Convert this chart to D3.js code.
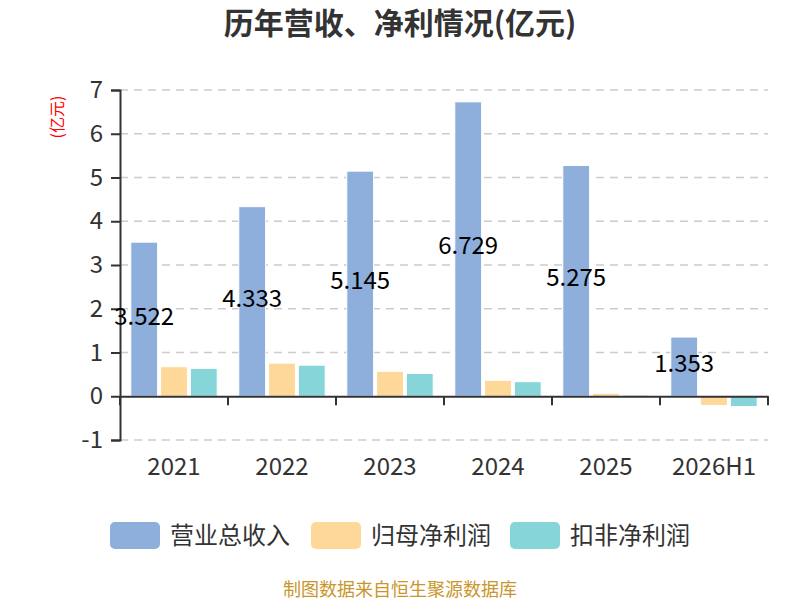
<!DOCTYPE html>
<html>
<head>
<meta charset="utf-8">
<script src="https://cdn.jsdelivr.net/npm/d3@7/dist/d3.min.js"></script>
<style>
  body { margin: 0; background: #fff; }
  text { font-family: "Noto Sans CJK SC", "Noto Sans", sans-serif; }
</style>
</head>
<body>
<div id="chart-area"></div>
<script>
var categories = ["2021", "2022", "2023", "2024", "2025", "2026H1"];
var seriesNames = ["营业总收入", "归母净利润", "扣非净利润"];
var revenue = [3.522, 4.333, 5.145, 6.729, 5.275, 1.353];
var netProfit = [0.675, 0.757, 0.57, 0.364, 0.068, -0.21];
var deductedProfit = [0.636, 0.71, 0.52, 0.333, 0.03, -0.235];
var yTicks = [-1, 0, 1, 2, 3, 4, 5, 6, 7];
var colors = ["#8eaedb", "#fed899", "#86d5d9"];

var seriesValues = [revenue, netProfit, deductedProfit];

var width = 800, height = 600;
var plotLeft = 120, plotRight = 768, plotTop = 90, plotBottom = 440;

var svg = d3.select("#chart-area")
  .append("svg")
    .attr("width", width)
    .attr("height", height);

var x = d3.scaleBand()
  .domain(categories)
  .range([plotLeft, plotRight]);

var inner = d3.scaleBand()
  .domain(d3.range(seriesNames.length))
  .range([x.bandwidth() * 0.1, x.bandwidth() * 0.9])
  .paddingInner(0.1);

var y = d3.scaleLinear()
  .domain([-1, 7])
  .range([plotBottom, plotTop]);

// title
svg.append("text")
  .attr("x", width / 2)
  .attr("y", 34)
  .attr("text-anchor", "middle")
  .attr("font-size", 30)
  .attr("font-weight", "bold")
  .attr("fill", "#333")
  .text("历年营收、净利情况(亿元)");

// grid lines
svg.append("g")
  .selectAll("line")
  .data(yTicks.filter(function(d) { return d !== 0; }))
  .enter()
  .append("line")
    .attr("x1", plotLeft)
    .attr("x2", plotRight)
    .attr("y1", function(d) { return y(d); })
    .attr("y2", function(d) { return y(d); })
    .attr("stroke", "#ccc")
    .attr("stroke-width", 1.5)
    .attr("stroke-dasharray", "8,6");

// y axis
var yAxis = svg.append("g")
  .attr("transform", "translate(" + plotLeft + ",0)")
  .call(d3.axisLeft(y).tickValues(yTicks).tickSize(9).tickPadding(8).tickFormat(function(d) { return String(d); }));
yAxis.select(".domain").attr("stroke", "#333").attr("stroke-width", 2);
yAxis.selectAll(".tick line").attr("stroke", "#333").attr("stroke-width", 2);
yAxis.selectAll(".tick text")
  .attr("font-size", 24)
  .attr("fill", "#333")
  .attr("font-family", "'Noto Sans CJK SC', sans-serif");

// y axis name
svg.append("text")
  .attr("transform", "translate(63,117) rotate(-90)")
  .attr("text-anchor", "middle")
  .attr("font-size", 16)
  .attr("fill", "red")
  .text("(亿元)");

// bars
var groups = svg.append("g")
  .selectAll("g")
  .data(seriesValues)
  .enter()
  .append("g")
    .attr("fill", function(d, i) { return colors[i]; });

groups.each(function(vals, si) {
  d3.select(this).selectAll("rect")
    .data(vals)
    .enter()
    .append("rect")
      .attr("x", function(d, i) { return x(categories[i]) + inner(si); })
      .attr("width", inner.bandwidth())
      .attr("y", function(d) { return y(Math.max(0, d)); })
      .attr("height", function(d) { return Math.abs(y(d) - y(0)); })
      .attr("stroke", "#fff")
      .attr("stroke-width", 1);
});

// x axis
var xAxis = svg.append("g")
  .attr("transform", "translate(0," + y(0) + ")")
  .call(d3.axisBottom(x).tickSize(0).tickPadding(24));
xAxis.select(".domain").attr("stroke", "#333").attr("stroke-width", 2);
xAxis.selectAll(".tick text")
  .attr("font-size", 24)
  .attr("fill", "#333")
  .attr("font-family", "'Noto Sans CJK SC', sans-serif")
  .attr("transform", "translate(0," + (y(-1) - y(0) - 6) + ")");
xAxis.selectAll(".boundary")
  .data(d3.range(categories.length + 1))
  .enter()
  .append("line")
    .attr("class", "boundary")
    .attr("x1", function(d) { return plotLeft + d * x.step(); })
    .attr("x2", function(d) { return plotLeft + d * x.step(); })
    .attr("y1", 0)
    .attr("y2", 9)
    .attr("stroke", "#333")
    .attr("stroke-width", 2);

// value labels on revenue bars
svg.append("g")
  .selectAll("text")
  .data(revenue)
  .enter()
  .append("text")
    .attr("x", function(d, i) { return x(categories[i]) + inner(0) + inner.bandwidth() / 2; })
    .attr("y", function(d) { return y(d / 2) - 3; })
    .attr("dy", "0.35em")
    .attr("text-anchor", "middle")
    .attr("font-size", 24)
    .attr("fill", "#000")
    .text(function(d) { return d3.format(".3f")(d); });

// legend
var legendX = [110, 311, 510];
var legend = svg.append("g")
  .selectAll("g")
  .data(seriesNames)
  .enter()
  .append("g")
    .attr("transform", function(d, i) { return "translate(" + legendX[i] + ",522)"; });
legend.append("rect")
  .attr("width", 50)
  .attr("height", 27)
  .attr("rx", 5)
  .attr("fill", function(d, i) { return colors[i]; });
legend.append("text")
  .attr("x", 60)
  .attr("y", 14)
  .attr("dy", "0.35em")
  .attr("font-size", 24)
  .attr("fill", "#333")
  .text(function(d) { return d; });

// source
svg.append("text")
  .attr("x", width / 2)
  .attr("y", 590)
  .attr("dy", "0.35em")
  .attr("text-anchor", "middle")
  .attr("font-size", 18)
  .attr("fill", "#c9962b")
  .text("制图数据来自恒生聚源数据库");
</script>
</body>
</html>
